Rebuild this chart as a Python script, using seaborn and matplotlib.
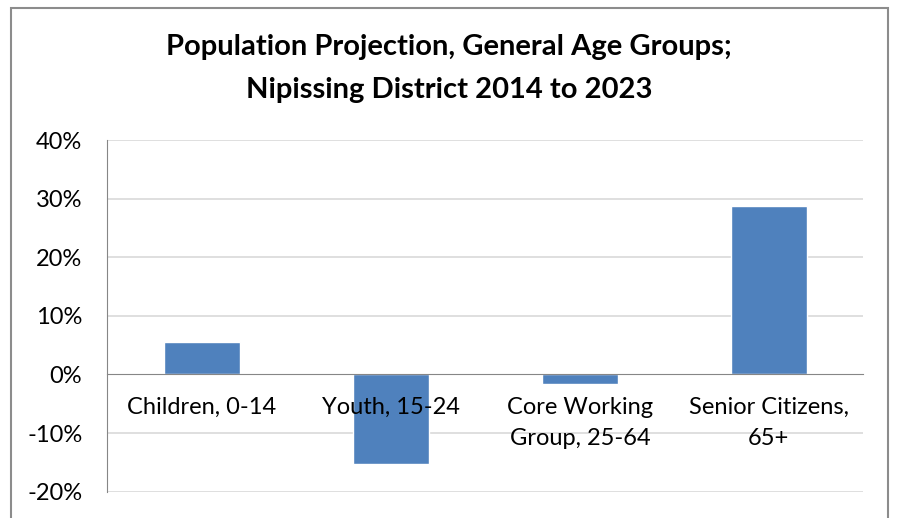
import matplotlib
matplotlib.use('Agg')
from matplotlib import pyplot as plt
from matplotlib.patches import Rectangle
from matplotlib.ticker import PercentFormatter
import pandas as pd
import seaborn as sns

# Data
categories = ['Children, 0-14', 'Youth, 15-24', 'Core Working\nGroup, 25-64', 'Senior Citizens,\n65+']
changes = [0.0546, -0.153, -0.0166, 0.2867]
y_ticks = [-0.2, -0.1, 0, 0.1, 0.2, 0.3, 0.4]

df = pd.DataFrame({'group': categories, 'change': changes})

sns.set_style('white')
plt.rcParams['font.family'] = ['Lato', 'DejaVu Sans']
plt.rcParams['axes.unicode_minus'] = False
plt.rcParams['text.color'] = 'black'

fig = plt.figure(figsize = (8.98, 5.18), dpi = 100)
ax = fig.add_axes([0.1195, 0.0508, 0.9614 - 0.1195, 0.7297 - 0.0508])

# gridlines under the bars
for yt in y_ticks:
    if yt != 0:
        ax.axhline(yt, color = '#d9d9d9', linewidth = 1.2, zorder = 0)

sns.barplot(data = df, x = 'group', y = 'change', color = '#4F81BD',
            width = 0.4, saturation = 1, ax = ax, zorder = 1)

ax.set_ylim(-0.2, 0.4)
ax.set_xlim(-0.5, 3.5)
ax.set_yticks(y_ticks)
ax.yaxis.set_major_formatter(PercentFormatter(1.0, decimals = 0))

for side in ['top', 'right']:
    ax.spines[side].set_visible(False)
ax.spines['left'].set_color('#868686')
ax.spines['bottom'].set_color('#868686')
ax.spines['bottom'].set_position(('data', 0))
ax.spines['bottom'].set_zorder(4)
ax.xaxis.set_zorder(5)

ax.set_xticks([0.5, 1.5, 2.5, 3.5], minor = True)
ax.tick_params(axis = 'x', which = 'major', length = 0, pad = 16, labelsize = 17, labelcolor = 'black')
ax.tick_params(axis = 'x', which = 'minor', length = 6, direction = 'out', color = '#868686')
ax.tick_params(axis = 'y', length = 6, direction = 'out', color = '#868686', pad = 12,
               labelsize = 17, labelcolor = 'black')
for lbl in ax.get_xticklabels():
    lbl.set_linespacing(1.6)
ax.set_xlabel('')
ax.set_ylabel('')

fig.text(0.5, 1 - 47 / 518, 'Population Projection, General Age Groups;', ha = 'center', va = 'center',
         fontsize = 21, fontweight = 'bold', color = 'black')
fig.text(0.5, 1 - 90 / 518, 'Nipissing District 2014 to 2023', ha = 'center', va = 'center',
         fontsize = 21, fontweight = 'bold', color = 'black')

# chart frame, cut off at the bottom like the screenshot
frame = Rectangle((11 / 898, -0.1), (888 - 11) / 898, 1 - 8 / 518 + 0.1, transform = fig.transFigure,
                  fill = False, edgecolor = '#8c8c8c', linewidth = 1.5, clip_on = False)
fig.patches.append(frame)

fig.savefig('out.png', dpi = 100)
